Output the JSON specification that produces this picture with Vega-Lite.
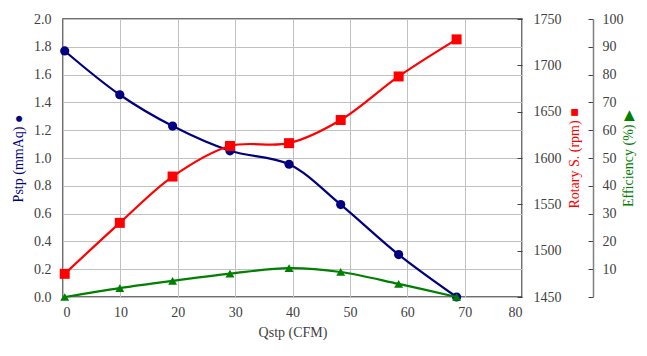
{
  "$schema": "https://vega.github.io/schema/vega-lite/v6.json",
  "width": 459,
  "height": 278,
  "autosize": {"type": "none"},
  "padding": {"left": 63, "top": 19, "right": 125, "bottom": 59},
  "background": "white",
  "config": {
    "font": "Liberation Serif",
    "view": {"stroke": "#404040", "strokeWidth": 1.5},
    "axis": {
      "labelFont": "Liberation Serif",
      "titleFont": "Liberation Serif",
      "labelFontSize": 14,
      "titleFontSize": 14,
      "titleFontWeight": "normal",
      "labelColor": "#404040",
      "titleColor": "#404040",
      "gridColor": "#c0c0c0",
      "gridOpacity": 1,
      "domainColor": "#404040"
    }
  },
  "data": {
    "values": [
      {"q": 0.3, "pstp": 1.77, "rpm": 1475, "eff": 0},
      {"q": 9.9, "pstp": 1.455, "rpm": 1530, "eff": 3.2},
      {"q": 19.1, "pstp": 1.23, "rpm": 1580, "eff": 5.8},
      {"q": 29.1, "pstp": 1.052, "rpm": 1613, "eff": 8.4},
      {"q": 39.4, "pstp": 0.955, "rpm": 1616, "eff": 10.4},
      {"q": 48.4, "pstp": 0.665, "rpm": 1641, "eff": 9.0},
      {"q": 58.5, "pstp": 0.305, "rpm": 1688, "eff": 4.7},
      {"q": 68.6, "pstp": 0.0, "rpm": 1728, "eff": 0}
    ]
  },
  "encoding": {
    "x": {
      "field": "q",
      "type": "quantitative",
      "scale": {"domain": [0, 80], "nice": false},
      "axis": {
        "values": [0, 10, 20, 30, 40, 50, 60, 70, 80],
        "title": "Qstp (CFM)",
        "labelFont": "Liberation Serif",
        "grid": true,
        "ticks": false,
        "labelPadding": 8,
        "titlePadding": 6,
        "domain": false
      }
    }
  },
  "layer": [
    {
      "mark": {"type": "line", "color": "#000080", "strokeWidth": 2.2, "interpolate": "catmull-rom",
               "point": {"filled": true, "shape": "circle", "size": 85, "color": "#000080", "opacity": 1}},
      "encoding": {
        "y": {
          "field": "pstp",
          "type": "quantitative",
          "scale": {"domain": [0, 2], "nice": false},
          "axis": {
            "orient": "left",
            "values": [0, 0.2, 0.4, 0.6, 0.8, 1.0, 1.2, 1.4, 1.6, 1.8, 2.0],
            "format": ".1f",
            "labelFont": "Liberation Serif",
            "grid": true,
            "ticks": false,
            "domain": false,
            "labelPadding": 12,
            "title": "Pstp (mmAq) ●",
            "titleColor": "#000080",
            "titlePadding": 8
          }
        }
      }
    },
    {
      "mark": {"type": "line", "color": "#ff0000", "strokeWidth": 2.2, "interpolate": "catmull-rom",
               "point": {"filled": true, "shape": "square", "size": 100, "color": "#ff0000", "opacity": 1}},
      "encoding": {
        "y": {
          "field": "rpm",
          "type": "quantitative",
          "scale": {"domain": [1450, 1750], "nice": false},
          "axis": {
            "orient": "right",
            "values": [1450, 1500, 1550, 1600, 1650, 1700, 1750],
            "format": "d",
            "labelFont": "Liberation Serif",
            "grid": false,
            "domain": false,
            "tickSize": -5,
            "tickColor": "#404040",
            "labelPadding": 16,
            "title": "Rotary S. (rpm) ■",
            "titleAngle": -90,
            "titleColor": "#ff0000",
            "titlePadding": 20
          }
        }
      }
    },
    {
      "mark": {"type": "line", "color": "#008000", "strokeWidth": 2.2, "interpolate": "catmull-rom",
               "point": {"filled": true, "shape": "triangle-up", "size": 80, "color": "#008000", "opacity": 1}},
      "encoding": {
        "y": {
          "field": "eff",
          "type": "quantitative",
          "scale": {"domain": [0, 100], "nice": false},
          "axis": {
            "orient": "right",
            "offset": 71,
            "values": [0, 10, 20, 30, 40, 50, 60, 70, 80, 90, 100],
            "labelExpr": "datum.value == 0 ? '' : datum.label",
            "labelFont": "Liberation Serif",
            "grid": false,
            "domain": true,
            "domainColor": "#808080",
            "domainWidth": 1.5,
            "tickSize": -5,
            "tickColor": "#404040",
            "labelPadding": 14,
            "title": "Efficiency (%) ▶",
            "titleAngle": -90,
            "titleColor": "#008000",
            "titlePadding": 12
          }
        }
      }
    }
  ],
  "resolve": {"scale": {"y": "independent"}}
}
